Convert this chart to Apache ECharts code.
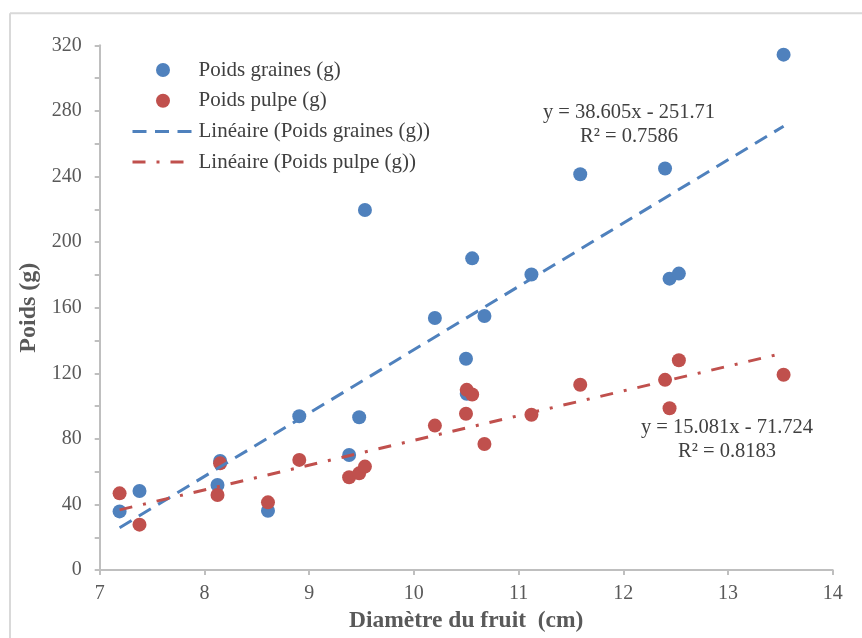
<!DOCTYPE html>
<html>
<head>
<meta charset="utf-8">
<script src="https://cdn.jsdelivr.net/npm/echarts@6/dist/echarts.min.js"></script>
<style>
html,body{margin:0;padding:0;background:#fff;}
#chart{width:862px;height:638px;}
</style>
</head>
<body>
<div id="chart"></div>
<script>
// ---- data ----
var diametre = [7.19, 7.38, 8.125, 8.15, 8.607, 8.906, 9.382, 9.478, 9.533, 10.201, 10.498, 10.505, 10.557, 10.674, 11.123, 11.589, 12.399, 12.442, 12.531, 13.531];
var poidsGraines = [35.8, 48.2, 51.9, 66.5, 36.2, 93.8, 70.2, 93.2, 219.6, 153.7, 128.9, 107.5, 190.1, 154.9, 180.2, 241.4, 244.9, 177.7, 180.8, 314.3];
var poidsPulpe = [46.8, 27.7, 45.8, 65.1, 41.3, 67.2, 56.6, 59.0, 63.1, 88.1, 95.3, 109.9, 107.1, 76.9, 94.7, 113.0, 116.0, 98.7, 128.0, 119.1];
var fitGraines = {slope: 38.605, intercept: -251.71, r2: 0.7586};
var fitPulpe = {slope: 15.081, intercept: -71.724, r2: 0.8183};
var xTicks = {min: 7, max: 14, interval: 1};
var yTicks = {min: 0, max: 320, interval: 40};
var seriesNames = ['Poids graines (g)', 'Poids pulpe (g)', 'Linéaire (Poids graines (g))', 'Linéaire (Poids pulpe (g))'];

function pairs(xs, ys) { return xs.map(function (x, i) { return [x, ys[i]]; }); }
var xMin = Math.min.apply(null, diametre), xMax = Math.max.apply(null, diametre);
function fitLine(f) { return [[xMin, f.slope * xMin + f.intercept], [xMax, f.slope * xMax + f.intercept]]; }
function eqText(f) { return 'y = ' + f.slope.toFixed(3) + 'x - ' + Math.abs(f.intercept); }

var BLUE = '#4f81bd', RED = '#c0504d';
var FONT = '"Liberation Serif", "Times New Roman", serif';
var eqStyle = {fontFamily: FONT, fontSize: 20.5, fill: '#404040', align: 'center', verticalAlign: 'middle'};

var chart = echarts.init(document.getElementById('chart'), null, {renderer: 'canvas'});
chart.setOption({
  animation: false,
  backgroundColor: '#ffffff',
  textStyle: {fontFamily: FONT},
  grid: {left: 99.7, right: 29.3, top: 45.3, bottom: 67.3, containLabel: false},
  legend: {
    orient: 'vertical',
    left: 131, top: 59.5, padding: 0,
    itemWidth: 61, itemHeight: 14, itemGap: 9.7, itemTextGap: 10.5,
    lineStyle: {width: 3},
    data: [
      {name: seriesNames[0]},
      {name: seriesNames[1]},
      {name: seriesNames[2], itemStyle: {opacity: 0}},
      {name: seriesNames[3], itemStyle: {opacity: 0}}
    ],
    textStyle: {fontFamily: FONT, fontSize: 21, color: '#404040', lineHeight: 21}
  },
  xAxis: {
    type: 'value', min: xTicks.min, max: xTicks.max, interval: xTicks.interval,
    name: 'Diamètre du fruit  (cm)', nameLocation: 'middle', nameGap: 31,
    nameTextStyle: {fontFamily: FONT, fontSize: 23.5, fontWeight: 'bold', color: '#595959'},
    axisLine: {show: true, onZero: false, lineStyle: {color: '#bfbfbf', width: 2}},
    axisTick: {show: true, inside: false, length: 5, lineStyle: {color: '#bfbfbf', width: 2}},
    axisLabel: {fontFamily: FONT, fontSize: 20, color: '#595959', margin: 14},
    splitLine: {show: false}
  },
  yAxis: {
    type: 'value', min: yTicks.min, max: yTicks.max, interval: yTicks.interval,
    name: 'Poids (g)', nameLocation: 'middle', nameGap: 59, nameRotate: 90,
    nameTextStyle: {fontFamily: FONT, fontSize: 24, fontWeight: 'bold', color: '#595959'},
    axisLine: {show: true, lineStyle: {color: '#bfbfbf', width: 2}},
    axisTick: {show: true, inside: false, length: 5, lineStyle: {color: '#bfbfbf', width: 2}},
    minorTick: {show: true, splitNumber: 2, length: 5, lineStyle: {color: '#bfbfbf', width: 2}},
    axisLabel: {fontFamily: FONT, fontSize: 20, color: '#595959', margin: 18},
    splitLine: {show: false}
  },
  graphic: [
    {type: 'line', shape: {x1: 10, y1: 13.3, x2: 862, y2: 13.3}, style: {stroke: '#d9d9d9', lineWidth: 2}, silent: true},
    {type: 'line', shape: {x1: 10, y1: 13.3, x2: 10, y2: 638}, style: {stroke: '#d9d9d9', lineWidth: 2}, silent: true},
    {type: 'text', x: 629, y: 113, style: Object.assign({text: eqText(fitGraines)}, eqStyle)},
    {type: 'text', x: 629, y: 137, style: Object.assign({text: 'R² = ' + fitGraines.r2}, eqStyle)},
    {type: 'text', x: 727, y: 428, style: Object.assign({text: eqText(fitPulpe)}, eqStyle)},
    {type: 'text', x: 727, y: 452, style: Object.assign({text: 'R² = ' + fitPulpe.r2}, eqStyle)}
  ],
  series: [
    {name: seriesNames[0], type: 'scatter', data: pairs(diametre, poidsGraines), symbol: 'circle', symbolSize: 14,
     itemStyle: {color: BLUE, opacity: 1}, z: 2},
    {name: seriesNames[1], type: 'scatter', data: pairs(diametre, poidsPulpe), symbol: 'circle', symbolSize: 14,
     itemStyle: {color: RED, opacity: 1}, z: 3},
    {name: seriesNames[2], type: 'line', data: fitLine(fitGraines), showSymbol: false, symbol: 'none',
     lineStyle: {color: BLUE, width: 3, type: [14, 8.5], cap: 'butt'}, itemStyle: {color: BLUE}, z: 4},
    {name: seriesNames[3], type: 'line', data: fitLine(fitPulpe), showSymbol: false, symbol: 'none',
     lineStyle: {color: RED, width: 3, type: [13, 11, 3, 11], cap: 'butt'}, itemStyle: {color: RED}, z: 5}
  ]
});
</script>
</body>
</html>
